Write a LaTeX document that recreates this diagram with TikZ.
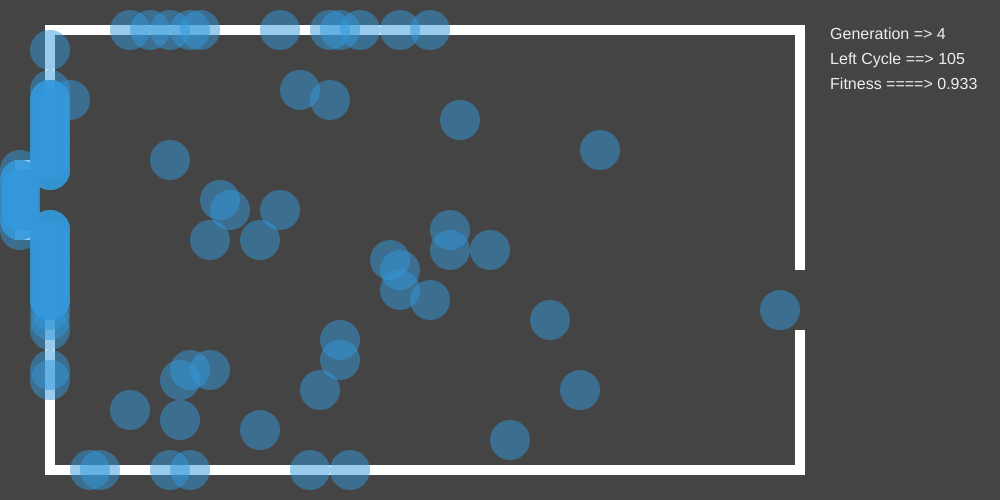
\documentclass[tikz,border=0pt]{standalone}
\usepackage{fontspec}
\setmainfont{Liberation Sans}
\usetikzlibrary{positioning}
\definecolor{bgdark}{HTML}{444444}
\definecolor{ballblue}{HTML}{3498DB}
\definecolor{infotext}{HTML}{EEEEEE}
\tikzstyle{wall}=[draw=white,line width=10pt,line join=miter]
\tikzstyle{ball}=[fill=ballblue,fill opacity=0.5]
\tikzstyle{info}=[text=infotext,anchor=base west,inner sep=0pt,font=\fontsize{16}{19}\selectfont]

\begin{document}
\begin{tikzpicture}[x=1pt,y=-1pt]
\fill[bgdark] (0,0) rectangle (1000,500);
% arena
\draw[wall] (800,270) -- (800,30) -- (50,30) -- (50,165) -- (20,165) -- (20,235)
    -- (50,235) -- (50,470) -- (800,470) -- (800,330);
% balls on the top wall
\foreach \x in {130,150,170,190,200,280,330,340,360,400,430}
    \fill[ball] (\x,30) circle (20pt);
% balls stuck on the left
\foreach \y in {50,90,310,320,330,370,380}
    \fill[ball] (50,\y) circle (20pt);
\foreach \k in {1,...,4}
    \foreach \y in {100,110,...,170,230,240,...,300}
        \fill[ball] (50,\y) circle (20pt);
\foreach \y in {170,230}
    \fill[ball] (20,\y) circle (20pt);
\foreach \k in {1,...,3}
    \foreach \y in {180,190,...,220}
        \fill[ball] (20,\y) circle (20pt);
\fill[ball] (70,100) circle (20pt);
% free balls
\foreach \x/\y in {300/90,330/100,460/120,600/150,170/160,220/200,230/210,280/210,
    210/240,260/240,390/260,400/270,400/290,430/300,450/230,450/250,490/250,
    550/320,780/310,580/390,510/440,130/410,180/380,190/370,210/370,180/420,
    260/430,340/340,340/360,320/390}
    \fill[ball] (\x,\y) circle (20pt);
% balls on the bottom wall
\foreach \x in {90,100,170,190,310,350}
    \fill[ball] (\x,470) circle (20pt);
% stats
\node[info] (gen) at (830,40) {Generation => 4};
\node[info] (cycle) at (830,65) {Left Cycle ==> 105};
\node[info] (fit) at (830,90) {Fitness ====> 0.933};
\end{tikzpicture}
\end{document}
